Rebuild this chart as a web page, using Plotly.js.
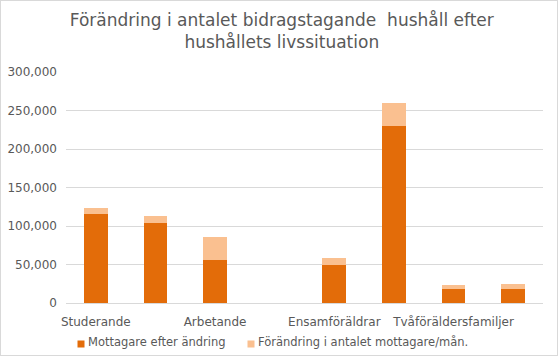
<!DOCTYPE html>
<html><head><meta charset="utf-8">
<script src="https://cdn.plot.ly/plotly-3.0.1.min.js"></script>
<style>body{margin:0;}#wrap{position:relative;width:558px;height:356px;}#frame{position:absolute;left:0;top:0;width:556px;height:354px;border:1px solid #d9d9d9;pointer-events:none;}</style>
</head><body>
<div id="wrap"><div id="chart" style="width:558px;height:356px;"></div><div id="frame"></div></div>
<script>
const categories = [0, 1, 2, 3, 4, 5, 6, 7];
const tickPositions = [0, 2, 4, 6];
const tickLabels = ["Studerande", "Arbetande", "Ensamföräldrar", "Tvåföräldersfamiljer"];
const mottagareEfter = [116000, 104000, 56000, 0, 49500, 230000, 18000, 18000];
const forandring = [7500, 9000, 30000, 0, 9000, 30000, 5000, 6500];
const seriesNames = ["Mottagare efter ändring", "Förändring i antalet mottagare/mån."];

const font = "DejaVu Sans, sans-serif";
const data = [
  {type: "bar", x: categories, y: mottagareEfter, name: seriesNames[0], legend: "legend",
   marker: {color: "#E36C09"}, width: 0.4, hoverinfo: "none"},
  {type: "bar", x: categories, y: forandring, name: seriesNames[1], legend: "legend2",
   marker: {color: "#FAC090"}, width: 0.4, hoverinfo: "none"}
];
const legendBase = {orientation: "h", xref: "container", yref: "container", xanchor: "left", yanchor: "middle",
  y: 1 - 341/356, font: {size: 11.5, color: "#595959"}, itemwidth: 30, bgcolor: "rgba(0,0,0,0)"};
const layout = {
  width: 558, height: 356,
  barmode: "stack",
  paper_bgcolor: "#ffffff", plot_bgcolor: "#ffffff",
  margin: {l: 66, r: 15, t: 72, b: 53, autoexpand: false},
  font: {family: font, color: "#595959", size: 12},
  title: {text: "Förändring i antalet bidragstagande  hushåll efter<br>hushållets livssituation",
          font: {family: font, size: 17, color: "#595959"},
          x: 0.505, xanchor: "center", y: 0.927, yanchor: "middle", yref: "container"},
  xaxis: {range: [-0.5, 7.5], tickmode: "array", tickvals: tickPositions, ticktext: tickLabels,
          showgrid: false, zeroline: false, showline: true, linecolor: "#d9d9d9", linewidth: 1,
          ticks: "", ticklabelstandoff: 8, tickfont: {size: 12, color: "#595959"}, fixedrange: true},
  yaxis: {range: [0, 300000], dtick: 50000, tickformat: ",d", showgrid: true, gridcolor: "#d9d9d9",
          zeroline: true, zerolinecolor: "#d9d9d9", showline: false, ticks: "",
          ticklabelstandoff: 8, tickfont: {size: 12, color: "#595959"}, fixedrange: true},
  legend: Object.assign({}, legendBase, {x: 48/558}),
  legend2: Object.assign({}, legendBase, {x: 218/558}),
  showlegend: true
};
Plotly.newPlot("chart", data, layout, {displayModeBar: false, staticPlot: true}).then(function(){
  document.querySelectorAll(".legendpoints path").forEach(function(p){
    p.setAttribute("d", "M3.5,3.5H-3.5V-3.5H3.5Z");
    p.setAttribute("transform", "translate(33,3)");
  });
});
</script>
</body></html>
